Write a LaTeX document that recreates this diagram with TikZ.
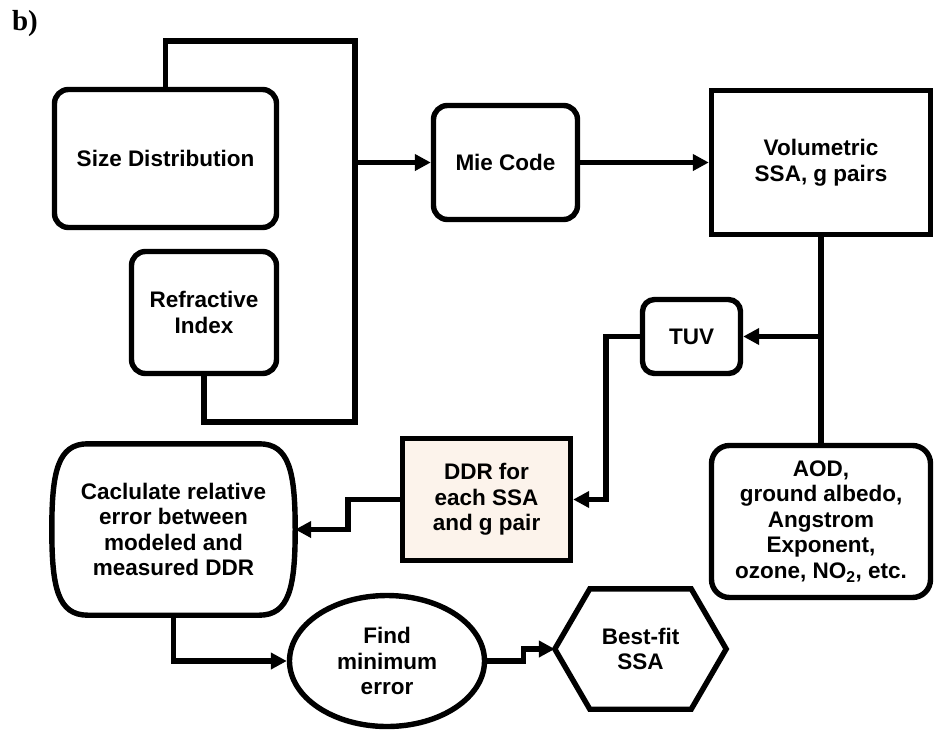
\documentclass[tikz,border=0pt]{standalone}
\usepackage{fontspec}
\setmainfont{Liberation Sans}
\newfontfamily\panelfont{Liberation Serif}
\usetikzlibrary{arrows.meta}
\usetikzlibrary{shapes.geometric}

\begin{document}
\begin{tikzpicture}[x=1pt, y=-1pt, line width=5.4pt, >={Triangle[length=16pt,width=16pt]},
  every node/.style={font=\bfseries\fontsize{22.5}{25.5}\selectfont, align=center, inner sep=0pt},
  roundbox/.style={draw, rounded corners=14pt},
  sharpbox/.style={draw, rounded corners=0pt}]
  \useasboundingbox (0,0) rectangle (934,731);

  \node[font=\panelfont\bfseries\fontsize{29}{30}\selectfont] (panel) at (25,24) {b)};

  % inputs
  \node[roundbox, minimum width=222pt, minimum height=138pt] (size) at (165.5,158.5) {Size Distribution};
  \node[roundbox, minimum width=145pt, minimum height=122pt] (refr) at (204,312.5) {Refractive\\Index};
  \coordinate (looptop) at (355,41);
  \coordinate (loopbot) at (355,422);
  \coordinate (merge) at (355,162.5);

  % mie
  \node[roundbox, minimum width=144pt, minimum height=114pt] (mie) at (505.5,162.5) {Mie Code};
  \node[sharpbox, minimum width=219pt, minimum height=144pt] (vol) at (821,162.5) {Volumetric\\SSA, g pairs};

  % TUV
  \node[roundbox, rounded corners=12pt, minimum width=98pt, minimum height=74pt] (tuv) at (691.5,336.5) {TUV};
  \node[roundbox, rounded corners=18pt, minimum width=219pt, minimum height=152pt] (aod) at (821,521.5)
    {AOD,\\ground albedo,\\Angstrom\\Exponent,\\ozone, NO\textsubscript{2}, etc.};
  \node[sharpbox, fill={rgb,255:red,252;green,243;blue,235}, minimum width=168pt, minimum height=122pt] (ddr) at (486.5,499.5)
    {DDR for\\each SSA\\and g pair};

  % error
  \node[minimum width=238pt, minimum height=166pt] (calc) at (173.5,529.5)
    {Caclulate relative\\error between\\modeled and\\measured DDR};
  \draw ([xshift=36pt]calc.north west) -- ([xshift=-36pt]calc.north east)
    .. controls +(30pt,0) and +(0,58pt) .. (calc.east)
    .. controls +(0,-58pt) and +(30pt,0) .. ([xshift=-36pt]calc.south east)
    -- ([xshift=36pt]calc.south west)
    .. controls +(-30pt,0) and +(0,-58pt) .. (calc.west)
    .. controls +(0,58pt) and +(-30pt,0) .. cycle;
  \node[draw, ellipse, minimum width=195pt, minimum height=131pt] (find) at (387,661) {Find\\minimum\\error};
  \node[minimum width=166pt, minimum height=115pt] (best) at (640.5,649) {Best-fit\\SSA};
  \draw (best.west) -- ([xshift=35pt]best.north west) -- ([xshift=-35pt]best.north east)
    -- (best.east) -- ([xshift=-35pt]best.south east) -- ([xshift=35pt]best.south west) -- cycle;

  % arrows
  \draw (size.north) |- (looptop) -- (loopbot) -| (refr.south);
  \draw[->] (merge) -- (mie.west);
  \draw[->] (mie) -- (vol);
  \draw (vol) -- (aod);
  \draw[->] (vol.south |- tuv.east) -- (tuv.east);
  \draw[->] (tuv.west) -- ++(-34pt,0) |- (ddr.east);
  \draw[->] (ddr.west) -- ++(-52pt,0) |- (calc.east);
  \draw[->] (calc.south) |- (find.west);
  \draw[->] (find.east) -- ++(36pt,0) |- (best.west);

\end{tikzpicture}
\end{document}
